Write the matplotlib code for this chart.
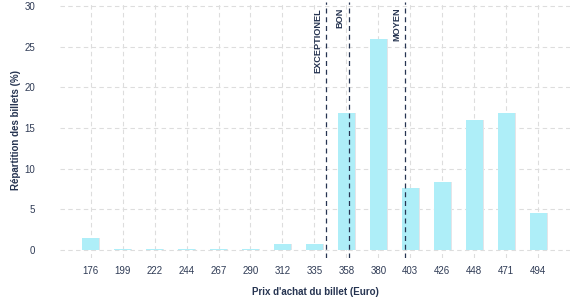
import numpy as np
import matplotlib.pyplot as plt

plt.rcParams['font.family'] = ['Liberation Sans', 'DejaVu Sans']

# Data
prix = ['176', '199', '222', '244', '267', '290', '312', '335', '358',
        '380', '403', '426', '448', '471', '494']
repartition = [1.5, 0.1, 0.1, 0.1, 0.1, 0.1, 0.75, 0.75, 16.8,
               26.0, 7.6, 8.4, 16.0, 16.8, 4.5]
seuils = ['EXCEPTIONEL', 'BON', 'MOYEN']
seuils_prix = [343.5, 359.5, 399.5]

navy = '#263451'
bar_color = '#aeeef8'

fig = plt.figure(figsize=(5.77, 3.0), dpi=100)
ax = fig.add_axes([0.104, 0.14, 0.884, 0.853])

x = np.arange(len(prix))
# light shadow behind the bars
ax.bar(x + 0.04, repartition, width=0.53, color='#e4e4e8', zorder=2)
ax.bar(x, repartition, width=0.53, color=bar_color, zorder=3)

# thresholds, mapped from price to category position
prix_num = [float(p) for p in prix]
for nom, p in zip(seuils, seuils_prix):
    xp = np.interp(p, prix_num, x)
    ax.axvline(xp, color=navy, linestyle=(0, (4, 3)), linewidth=0.9, zorder=4)
    ax.text(xp - 0.12, 29.8, nom, rotation=90, ha='right', va='top',
            fontsize=6.6, fontweight='bold', color=navy)

ax.set_xticks(x)
ax.set_xticklabels(prix)
ax.set_yticks([0, 5, 10, 15, 20, 25, 30])
ax.set_xlim(-0.96, 15.0)
ax.set_ylim(-1, 30.5)

ax.grid(True, color='#dddddd', linestyle=(0, (4, 3)), linewidth=0.8, zorder=0)
ax.set_axisbelow(True)
for s in ax.spines.values():
    s.set_visible(False)
ax.tick_params(length=0, labelsize=7, labelcolor='#2f3b55', pad=6)
ax.tick_params(axis='y', pad=18)

ax.set_xlabel("Prix d'achat du billet (Euro)", fontsize=7, fontweight='bold',
              color=navy, labelpad=8)
ax.set_ylabel('Répartition des billets (%)', fontsize=7, fontweight='bold',
              color=navy, labelpad=2)

fig.savefig('out.png', dpi=100)
